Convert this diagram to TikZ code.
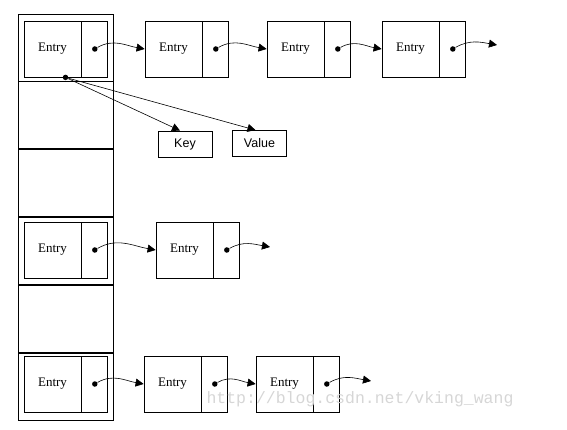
\documentclass[tikz,border=0pt]{standalone}
\usepackage{fontspec}
\setmainfont{Liberation Serif}
\setsansfont{Liberation Sans}
\setmonofont{Liberation Mono}
\usetikzlibrary{positioning}
\usetikzlibrary{arrows.meta}

\begin{document}
\begin{tikzpicture}
    [
    x=1pt, y=-1pt,
    line width=0.8pt,
    bucket/.style={rectangle,draw,minimum width=95pt,minimum height=67pt,inner sep=0pt},
    entry/.style={rectangle,draw,minimum width=57pt,minimum height=56pt,inner sep=0pt,font=\fontsize{13}{15}\selectfont},
    nextcell/.style={rectangle,draw,minimum width=26pt,minimum height=56pt,inner sep=0pt},
    field/.style={rectangle,draw,minimum width=54pt,minimum height=26pt,inner sep=0pt,font=\sffamily\fontsize{12.5}{14}\selectfont},
    dot/.style={circle,fill=black,inner sep=0pt,minimum size=5.5pt},
    link/.style={line width=0.6pt,-{Triangle[length=8pt,width=8pt]}},
    ]
    \useasboundingbox (0,0) rectangle (567,430);

    % the bucket array
    \node (b1) at (65.5,47.5) [bucket] {};
    \node (b2) [bucket, below=0pt of b1] {};
    \node (b3) [bucket, below=0pt of b2] {};
    \node (b4) [bucket, below=0pt of b3] {};
    \node (b5) [bucket, below=0pt of b4] {};
    \node (b6) [bucket, below=0pt of b5] {};

    % row 1
    \node (e11) at (52.5,49) [entry] {Entry};
    \node (n11) [nextcell, right=0pt of e11] {};
    \node (e12) at (173.5,49) [entry] {Entry};
    \node (n12) [nextcell, right=0pt of e12] {};
    \node (e13) at (295.5,49) [entry] {Entry};
    \node (n13) [nextcell, right=0pt of e13] {};
    \node (e14) at (410.5,49) [entry] {Entry};
    \node (n14) [nextcell, right=0pt of e14] {};
    \node (d11) at (n11.center) [dot] {};
    \node (d12) at (n12.center) [dot] {};
    \node (d13) at (n13.center) [dot] {};
    \node (d14) at (n14.center) [dot] {};
    \coordinate (t1) at (497,45);
    \draw [link] (d11) to[out=30,in=170] (e12.west);
    \draw [link] (d12) to[out=30,in=170] (e13.west);
    \draw [link] (d13) to[out=30,in=170] (e14.west);
    \draw [link] (d14) to[out=30,in=170] (t1);

    % key and value
    \node (k) at (185,144) [field] {Key};
    \node (v) at (259.5,143.5) [field] {Value};
    \node (d10) at ([xshift=13pt]e11.south) [dot] {};
    \draw [link] (d10) to ([xshift=-5pt]k.north);
    \draw [link] (d10) to ([xshift=-4pt]v.north);

    % row 4
    \node (e41) at (52.5,250) [entry] {Entry};
    \node (n41) [nextcell, right=0pt of e41] {};
    \node (e42) at (184.5,250) [entry] {Entry};
    \node (n42) [nextcell, right=0pt of e42] {};
    \node (d41) at (n41.center) [dot] {};
    \node (d42) at (n42.center) [dot] {};
    \coordinate (t4) at (270,247);
    \draw [link] (d41) to[out=30,in=170] (e42.west);
    \draw [link] (d42) to[out=30,in=170] (t4);

    % row 6
    \node (e61) at (52.5,384) [entry] {Entry};
    \node (n61) [nextcell, right=0pt of e61] {};
    \node (e62) at (172.5,384) [entry] {Entry};
    \node (n62) [nextcell, right=0pt of e62] {};
    \node (e63) at (284.5,384) [entry] {Entry};
    \node (n63) [nextcell, right=0pt of e63] {};
    \node (d61) at (n61.center) [dot] {};
    \node (d62) at (n62.center) [dot] {};
    \node (d63) at (n63.center) [dot] {};
    \coordinate (t6) at (371,381);
    \draw [link] (d61) to[out=30,in=170] (e62.west);
    \draw [link] (d62) to[out=30,in=170] (e63.west);
    \draw [link] (d63) to[out=30,in=170] (t6);

    \node (wm) at (360,399) [text=black!16, font=\ttfamily\fontsize{16.5}{18}\selectfont] {http://blog.csdn.net/vking\_wang};
\end{tikzpicture}
\end{document}
